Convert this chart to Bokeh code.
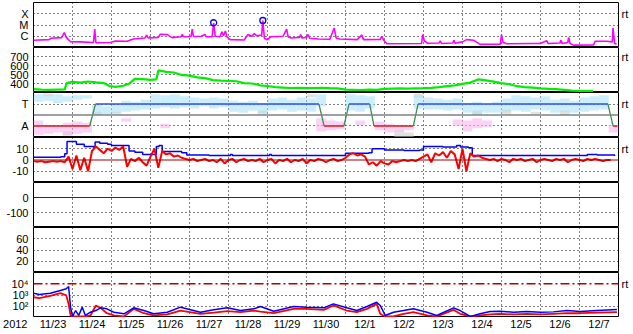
import numpy as np
from bokeh.plotting import figure
from bokeh.layouts import column
from bokeh.models import FixedTicker, LinearAxis, LogAxis, Grid, Span, Range1d
from bokeh.core.properties import value
from bokeh.embed import file_html
from bokeh.resources import INLINE

FONT = "Liberation Sans"

# ---------------- data ----------------
day_labels = ["11/23", "11/24", "11/25", "11/26", "11/27", "11/28", "11/29", "11/30",
              "12/1", "12/2", "12/3", "12/4", "12/5", "12/6", "12/7"]
year_label = "2012"

# GOES X-ray flux (log10 W/m2), day offset from 2012-11-23 00:00
xray_day = [0.00, 0.40, 0.45, 0.72, 0.79, 0.84, 0.95, 1.20, 1.54, 1.57, 1.60, 1.97, 2.10, 2.40,
            2.56, 2.86, 2.90, 2.94, 3.20, 3.25, 3.43, 3.55, 3.78, 3.81, 3.85, 4.04, 4.07, 4.10,
            4.30, 4.40, 4.43, 4.58, 4.62, 4.66, 4.78, 4.83, 4.87, 4.92, 4.96, 5.05, 5.40, 5.50,
            5.60, 5.66, 5.72, 5.85, 5.88, 5.92, 6.00, 6.08, 6.40, 6.49, 6.53, 6.60, 6.82, 6.85,
            6.88, 7.00, 7.04, 7.08, 7.30, 7.60, 7.71, 7.76, 7.85, 8.30, 8.42, 8.46, 8.89, 8.93,
            8.98, 9.06, 9.95, 9.98, 10.02, 10.10, 10.40, 10.43, 10.46, 10.75, 10.78, 10.81, 11.00,
            11.11, 11.28, 11.45, 11.97, 12.00, 12.04, 12.14, 12.82, 12.99, 13.16, 13.20, 13.50,
            13.52, 13.56, 13.70, 13.72, 13.76, 13.85, 14.36, 14.40, 14.70, 14.84, 14.86, 14.90, 14.95]
xray_log = [-6.36, -6.30, -6.18, -6.12, -5.67, -6.10, -6.49, -6.50, -6.55, -5.36, -6.58, -6.55, -6.42, -6.45,
            -6.24, -6.15, -5.90, -6.15, -6.10, -5.82, -5.85, -6.12, -6.05, -5.85, -6.05, -6.02, -5.36, -6.02,
            -6.00, -5.85, -6.05, -6.05, -4.82, -6.00, -6.05, -5.60, -5.95, -5.54, -6.05, -6.30, -6.33, -5.85,
            -6.00, -5.76, -5.95, -5.90, -4.61, -6.20, -6.30, -6.05, -6.00, -5.36, -6.05, -6.15, -6.10, -5.85,
            -6.15, -6.10, -5.85, -6.18, -6.25, -6.27, -5.27, -6.15, -6.25, -6.30, -5.88, -6.30, -6.28, -6.00,
            -6.35, -6.67, -6.65, -5.85, -6.40, -6.62, -6.60, -6.40, -6.65, -6.60, -6.35, -6.62, -6.50,
            -6.30, -6.35, -6.72, -6.70, -5.85, -6.55, -6.67, -6.65, -6.65, -6.40, -6.65, -6.60,
            -6.35, -6.65, -6.55, -6.10, -6.65, -6.79, -6.78, -6.45, -6.45, -6.50, -5.27, -6.65, -6.70]
flare_day = [4.62, 5.88]
flare_log = [-4.80, -4.60]

# Solar wind speed (km/s)
speed_day = [0, 0.2, 0.4, 0.6, 0.8, 0.85, 1.0, 1.2, 1.4, 1.6, 1.8, 1.95, 2.1, 2.3, 2.45, 2.6, 2.8, 3.0,
             3.15, 3.2, 3.4, 3.6, 3.8, 4.0, 4.2, 4.4, 4.6, 4.8, 5.0, 5.2, 5.4, 5.6, 5.8, 6.0, 6.2, 6.4,
             6.6, 6.8, 7.0, 7.2, 7.4, 7.6, 7.8, 8.0, 8.2, 8.4, 8.6, 8.8, 9.0, 9.2, 9.4, 9.6, 9.8, 10.0,
             10.2, 10.4, 10.6, 10.8, 11.0, 11.2, 11.4, 11.6, 11.8, 12.0, 12.2, 12.4, 12.6, 12.8, 13.0,
             13.2, 13.4, 13.6, 13.8, 14.0, 14.2, 14.35]
speed_val = [338, 333, 330, 332, 334, 405, 418, 410, 422, 412, 405, 372, 362, 375, 398, 452, 448, 440,
             445, 545, 530, 522, 495, 488, 468, 460, 438, 432, 430, 425, 405, 400, 380, 372, 360, 355,
             350, 352, 348, 350, 352, 348, 345, 332, 330, 328, 333, 330, 340, 344, 346, 342, 345, 348,
             352, 360, 370, 380, 395, 410, 445, 435, 420, 405, 392, 370, 360, 355, 345,
             340, 338, 330, 320, 318, 316, 318]

# IMF sector (T = +1, A = -1)
sector_day = [0, 1.44, 1.59, 7.32, 7.45, 7.96, 8.09, 8.62, 8.73, 9.74, 9.86, 14.73, 14.86, 14.97]
sector_val = [-1, -1, 1, 1, -1, -1, 1, 1, -1, -1, 1, 1, -1, -1]
toward_day = [0.125, 0.375, 0.625, 0.875, 1.125, 1.375, 1.625, 1.875, 2.125, 2.375, 2.625, 2.875,
              3.125, 3.375, 3.625, 3.875, 4.125, 4.375, 4.625, 4.875, 5.125, 5.375, 5.625, 5.875,
              6.125, 6.375, 6.625, 6.875, 7.125, 7.375, 8.125, 8.375, 8.625, 9.875, 10.125, 10.375,
              10.625, 10.875, 11.125, 11.375, 11.625, 11.875, 12.125, 12.375, 12.625, 12.875, 13.125,
              13.375, 13.625, 13.875, 14.125, 14.375, 14.625]
toward_lo = [1.2, 1.3, 1.1, 1.2, 1.4, 1.5, 0.1, 0.1, 0.2, 0.3, 0.4, 0.5, 0.6, 0.7, 0.6, 0.7, 0.6, 0.8,
             0.6, 0.7, 0.3, 0.2, 0.4, 0.2, 0.4, 0.5, 0.3, 0.4, 0.3, 0.8, 0.4, 0.3, 0.6, 0.6, 0.5, 0.5,
             0.4, 0.5, 0.2, 0.1, 0.2, 0.2, 0.3, 0.4, 0.3, 0.5, 0.4, 0.2, 0.3, 0.2, 0.3, 0.4, 0.5]
toward_hi = [1.9, 1.8, 1.9, 1.7, 1.8, 1.8, 0.9, 0.8, 0.9, 1.3, 1.2, 1.4, 1.9, 1.8, 1.9, 1.7, 1.6, 1.5,
             1.6, 1.5, 1.3, 1.2, 1.3, 1.1, 1.5, 1.6, 1.4, 1.6, 1.5, 1.9, 1.9, 1.8, 1.7, 1.8, 1.6, 1.5,
             1.4, 1.5, 1.1, 1.2, 1.0, 1.2, 1.5, 1.8, 1.7, 1.6, 1.7, 1.4, 1.5, 1.3, 1.6, 1.7, 1.8]
away_day = [0.125, 0.375, 0.625, 0.875, 1.125, 1.375, 2.375, 3.375, 7.375, 7.625, 7.875, 8.375,
            8.875, 9.125, 9.375, 9.625, 10.875, 11.125, 11.375, 11.625, 14.875]
away_lo = [-1.8, -1.7, -1.6, -1.8, -1.7, -1.6, -0.6, -1.2, -1.5, -1.4, -1.3, -0.9,
           -1.4, -1.6, -1.5, -1.4, -1.0, -1.5, -1.2, -1.1, -1.6]
away_hi = [-0.5, -0.9, -1.0, -0.7, -0.6, -0.7, -0.3, -0.8, -0.3, -0.5, -0.6, -0.5,
           -0.6, -0.8, -0.9, -1.0, -0.4, -0.5, -0.3, -0.5, -0.9]
mixed_day = [0.375, 0.875, 1.625, 2.125, 5.875, 7.125, 9.375, 9.625, 9.875, 11.375, 12.125, 12.875, 13.625]
mixed_lo = [1.7, -1.9, 0.0, 0.1, 0.1, 1.6, -2.0, -2.0, 1.6, 0.0, 0.1, 0.1, 0.0]
mixed_hi = [1.95, -1.5, 0.3, 0.3, 0.4, 1.9, -1.4, -1.6, 1.95, 0.4, 0.5, 0.3, 0.4]

# IMF Bt (blue) and Bz (red), nT
bt_day = [0, 0.7, 0.8, 0.86, 1.1, 1.3, 1.55, 1.58, 1.7, 1.9, 2.0, 2.35, 2.45, 2.6, 2.8, 3.0, 3.15,
          3.22, 3.3, 3.8, 3.93, 4.5, 5.0, 5.05, 5.1, 6.0, 6.05, 6.1, 7.0, 7.95, 8.0, 8.6, 8.68,
          9.0, 9.5, 9.9, 10.0, 10.5, 10.85, 10.95, 11.15, 11.25, 12.0, 13.8, 14.2, 14.45, 14.9]
bt_val = [2.5, 3, 5.5, 16.5, 14, 12, 11, 16, 15, 14, 13, 13, 8, 7, 5, 5, 12, 13, 7.5, 6.5, 4.5, 4,
          4, 5, 4, 4, 5, 4, 4, 4, 6, 6.5, 10, 9, 8.5, 9, 12, 11.5, 13, 11.5, 11, 4, 4, 4, 5, 4.5, 3.5]
bz_val = [-1, -1.5, -1, -2, -1.5, -1, -1.5, -1, -2, 3, -8, 4, -9, 2, -10, 8, 12, 9, 6, 10,
          8, 11, 9, 12, -6, 1, -1, 2, -2, -5, 3, 10, -7, 8, 5, 6, 3, 4, 2, 1,
          0, 1, -1, 0, 1, -1, 0, -2, 1, -3, 0, 1, -2, 0, 1, -1, 0, -1, 1, -2,
          0, 1, -3, 0, -1, 1, -2, 0, -1, 1, -3, 0, -1, 1, 0, -2, 0, 1, -1, 0,
          2, 5, 6, 4, 5, 3, -4, -2, -5, -1, -3, -4, -1, -2, -1, 0, -1, 0, -1, 1,
          3, 5, -2, 6, 4, 7, 2, 8, 5, -8, 10, -10, 6, 3, 4, 2, 1, 0, 1, -1,
          1, 0, -2, 1, 0, 1, -1, 0, 1, -2, 0, 1, 0, -1, 1, 0, 1, -2, 0, 1,
          0, -1, 1, 0, 1, 0, -1, 0, 0]
bz_day = [i / 10 for i in range(len(bz_val))]

# Electron flux (log10), blue and red channels
elec_day = [0, 0.15, 0.43, 0.69, 0.84, 0.90, 0.95, 1.00, 1.08, 1.16, 1.25, 1.33, 1.46, 1.60, 1.72,
            1.88, 2.06, 2.32, 2.57, 2.83, 3.08, 3.43, 3.77, 4.28, 4.62, 4.97, 5.31, 5.65, 5.82, 6.16,
            6.67, 7.0, 7.44, 7.69, 8.03, 8.29, 8.55, 8.80, 8.89, 9.02, 9.23, 9.49, 9.74, 10.09, 10.34,
            10.77, 10.94, 11.2, 11.45, 11.71, 11.97, 12.31, 12.65, 13.0, 13.33, 13.68, 14.02, 14.45, 14.96]
elec_blue_log = [3.16, 3.04, 3.16, 3.40, 3.55, 3.76, 1.92, 1.09, 1.62, 1.18, 1.92, 1.18, 1.47, 1.62, 1.86,
                 1.77, 1.47, 1.33, 1.86, 1.62, 1.33, 1.47, 1.92, 1.47, 1.68, 1.86, 1.62, 1.77, 1.98, 1.56,
                 1.98, 1.92, 1.86, 2.21, 1.86, 1.62, 1.98, 2.36, 2.07, 1.18, 1.47, 1.62, 1.77, 1.47, 1.18,
                 1.86, 1.62, 1.09, 1.33, 1.53, 1.56, 1.47, 1.53, 1.47, 1.50, 1.62, 1.53, 1.62, 1.71]
elec_red_log = [2.80, 2.72, 2.93, 3.16, 2.96, 2.21, 1.18, 1.09, 1.09, 1.09, 1.09, 1.09, 1.18, 2.07, 1.86,
                1.38, 1.18, 1.09, 1.77, 1.38, 1.18, 1.27, 1.62, 1.33, 1.44, 1.56, 1.47, 1.62, 1.53, 1.38,
                1.77, 1.77, 1.68, 2.07, 1.62, 1.47, 1.77, 2.21, 1.33, 1.09, 1.09, 1.33, 1.47, 1.18, 1.09,
                1.68, 1.33, 1.09, 1.18, 1.27, 1.33, 1.27, 1.33, 1.27, 1.33, 1.38, 1.38, 1.44, 1.47]

# ---------------- styling helpers ----------------
xr = Range1d(0, 15)
day_bounds = list(range(1, 15))


def make_panel(y_range, y_type="linear", top=0, bottom=0, height=45, outline="black"):
    p = figure(frame_width=585, frame_height=height, x_range=xr, y_range=y_range, y_axis_type=y_type,
               x_axis_location=None, y_axis_location=None, toolbar_location=None,
               output_backend="svg", min_border=0, min_border_left=33, min_border_right=15,
               min_border_top=top, min_border_bottom=bottom)
    p.center = [c for c in p.center if not isinstance(c, Grid)]
    p.outline_line_color = outline
    p.outline_line_width = 1
    p.background_fill_color = "white"
    p.border_fill_color = "white"
    if outline is not None:
        p.add_layout(Grid(dimension=0, ticker=FixedTicker(ticks=day_bounds), grid_line_color="black",
                          grid_line_dash="1 3", grid_line_width=1))
    return p


def add_hgrid(p, ticks):
    p.add_layout(Grid(dimension=1, ticker=FixedTicker(ticks=ticks), grid_line_color="black",
                      grid_line_dash="1 3", grid_line_width=1))


def add_yaxis(p, ticks, labels, log=False, side="left", standoff=None):
    cls = LogAxis if log else LinearAxis
    if standoff is None:
        standoff = 5 if side == "left" else 3
    ax = cls(ticker=FixedTicker(ticks=ticks), major_label_overrides=dict(zip(ticks, labels)),
             axis_line_color=None, major_tick_line_color=None, minor_tick_line_color=None,
             major_tick_out=0, major_tick_in=0, major_label_standoff=standoff,
             major_label_text_font=FONT, major_label_text_font_size="11px",
             major_label_text_color="black")
    p.add_layout(ax, side)


# ---------------- panel 1: X-ray ----------------
p1 = make_panel(Range1d(1e-7, 1e-3), "log", top=2)
add_hgrid(p1, [1e-6, 1e-5, 1e-4])
add_yaxis(p1, [1e-6, 1e-5, 1e-4], ["C", "M", "X"], log=True)
add_yaxis(p1, [1e-4], ["rt"], log=True, side="right")
p1.line(xray_day, [10 ** v for v in xray_log], line_color="#ff00ff", line_width=1.6)
p1.scatter(flare_day, [10 ** v for v in flare_log], marker="circle", size=6, fill_color=None,
           line_color="#0000ff", line_width=1.3)

# ---------------- panel 2: speed ----------------
p2 = make_panel(Range1d(300, 800))
add_hgrid(p2, [400, 500, 600, 700])
add_yaxis(p2, [400, 500, 600, 700], ["400", "500", "600", "700"])
add_yaxis(p2, [700], ["rt"], side="right")
p2.line(speed_day, speed_val, line_color="#00ee00", line_width=2.2)

# ---------------- panel 3: sector ----------------
p3 = make_panel(Range1d(-2.05, 2.05))
add_hgrid(p3, [-1, 1])
add_yaxis(p3, [-1, 1], ["A", "T"])
add_yaxis(p3, [1], ["rt"], side="right")
p3.vbar(x=mixed_day, bottom=mixed_lo, top=mixed_hi, width=0.25, fill_color="#c8c8c8",
        line_color=None, fill_alpha=0.55)
p3.vbar(x=toward_day, bottom=toward_lo, top=toward_hi, width=0.25, fill_color="#a8e2f6",
        line_color=None, fill_alpha=0.6)
p3.vbar(x=away_day, bottom=away_lo, top=away_hi, width=0.25, fill_color="#f9b2ee",
        line_color=None, fill_alpha=0.6)
p3.add_layout(Span(location=0, dimension="width", line_color="#808080", line_width=1.5))
seg = {"t": ([], [], [], []), "a": ([], [], [], []), "x": ([], [], [], [])}
for i in range(len(sector_day) - 1):
    a, b = sector_val[i], sector_val[i + 1]
    key = "t" if (a == 1 and b == 1) else ("a" if (a == -1 and b == -1) else "x")
    seg[key][0].append(sector_day[i])
    seg[key][1].append(a)
    seg[key][2].append(sector_day[i + 1])
    seg[key][3].append(b)
for key, col in (("t", "#2f4ff0"), ("a", "#e01818"), ("x", "#3c8c50")):
    x0, y0, x1, y1 = seg[key]
    p3.segment(x0=x0, y0=y0, x1=x1, y1=y1, line_color=col, line_width=1.3)

# ---------------- panel 4: IMF ----------------
p4 = make_panel(Range1d(-20, 20))
add_hgrid(p4, [-10, 10])
add_yaxis(p4, [-10, 0, 10], ["-10", "0", "10"])
add_yaxis(p4, [10], ["rt"], side="right")
p4.add_layout(Span(location=0, dimension="width", line_color="#a00000", line_width=1.2))
p4.step(bt_day, bt_val, mode="after", line_color="#0000ff", line_width=1.5)
p4.line(bz_day, bz_val, line_color="#ff0000", line_width=2)

# ---------------- panel 5: Dst ----------------
p5 = make_panel(Range1d(-200, 100))
add_hgrid(p5, [-100])
add_yaxis(p5, [-100, 0], ["-100", "0"])
p5.add_layout(Span(location=0, dimension="width", line_color="#a00000", line_width=1.2))

# ---------------- panel 6 ----------------
p6 = make_panel(Range1d(0, 80))
add_hgrid(p6, [20, 40, 60])
add_yaxis(p6, [20, 40, 60], ["20", "40", "60"])

# ---------------- panel 7: electrons ----------------
p7 = make_panel(Range1d(10, 1e5), "log")
add_hgrid(p7, [1e2, 1e3])
add_yaxis(p7, [1e2, 1e3, 1e4], ["10\u00b2", "10\u00b3", "10\u2074"], log=True)
add_yaxis(p7, [1e4], ["rt"], log=True, side="right")
p7.add_layout(Span(location=1e4, dimension="width", line_color="#b00000", line_width=1.5,
                   line_dash="9 3 2 3"))
p7.line(elec_day, [10 ** v for v in elec_red_log], line_color="#ff0000", line_width=1.8)
p7.line(elec_day, [10 ** v for v in elec_blue_log], line_color="#0000ff", line_width=1.5)

# ---------------- date label strip ----------------
p8 = make_panel(Range1d(0, 17), height=17, outline=None)
add_yaxis(p8, [11], [year_label], standoff=6)
label_x = [i + 0.5 for i in range(len(day_labels))]
p8.text(x=label_x, y=[11] * len(label_x), text=day_labels, text_align="center",
        text_baseline="middle", text_font=value(FONT), text_font_size=value("11px"),
        text_color="black")

layout = column(p1, p2, p3, p4, p5, p6, p7, p8, spacing=0)
open("out.html", "w").write(file_html(layout, INLINE))
